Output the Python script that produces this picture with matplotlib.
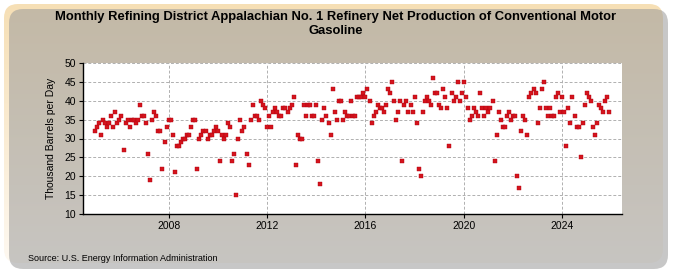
#!/usr/bin/env python3
"""Monthly Appalachian No. 1 refinery conventional gasoline output, EIA-style scatter."""
import numpy as np
import matplotlib
matplotlib.use("Agg")
import matplotlib.pyplot as plt
from matplotlib.patches import FancyBboxPatch

# ── Data (thousand barrels per day), monthly from Jan 2005 ────────────────────
START_YEAR = 2005
values_2005_2008 = [
    32, 33, 34, 31, 35, 34, 33, 34, 36, 33, 37, 34,
    35, 36, 27, 34, 35, 33, 35, 35, 34, 35, 39, 36,
    36, 34, 26, 19, 35, 37, 36, 32, 32, 22, 29, 33,
    35, 35, 31, 21, 28,
]
values_2008_2012 = [
    28, 29, 30, 30, 31, 31, 33, 35, 35, 22, 30, 31, 32, 32, 30, 31,
    31, 32, 33, 32, 24, 31, 30, 31, 34, 33, 24, 26, 15, 30, 35, 32,
    33, 26, 23, 35, 39, 36, 36, 35, 40, 39, 38, 33, 36, 33, 37, 38, 37,
]
values_2012_2016 = [
    36, 36, 38, 38, 37, 38, 39, 41, 23, 31, 30, 30, 39, 36, 39, 39,
    36, 36, 39, 24, 18, 35, 38, 36, 34, 31, 43, 37, 35, 40, 40, 35,
    37, 36, 36, 40, 36, 36, 41, 41, 41, 42, 41, 43, 40, 34, 36, 37, 39, 38,
]
values_2016_2020 = [
    38, 37, 39, 43, 42, 45, 40, 35, 37, 40, 24, 39, 40, 37, 39, 37,
    41, 34, 22, 20, 37, 40, 41, 40, 39, 46, 42, 42, 39, 38, 43, 41,
    38, 28, 42, 40, 41, 45, 40, 42, 45, 41, 38, 35, 36, 38, 37, 36,
]
values_2020_2025 = [
    42, 38, 36, 38, 37, 38, 40, 24, 31, 37, 35, 33, 33, 36, 37, 35,
    36, 36, 20, 17, 32, 36, 35, 31, 41, 42, 43, 42, 34, 38, 43, 45,
    38, 36, 38, 36, 36, 41, 42, 37, 41, 37, 28, 38, 34, 41, 36, 33,
    33, 25, 34, 39, 42, 41, 40, 33, 31, 34, 39, 38, 37, 40, 41, 37,
]

production = np.array(values_2005_2008 + values_2008_2012 + values_2012_2016
                      + values_2016_2020 + values_2020_2025, dtype=float)
years = START_YEAR + np.arange(len(production)) / 12.0

TITLE = ("Monthly Refining District Appalachian No. 1 Refinery Net Production of Conventional Motor\n"
         "Gasoline")
YLABEL = "Thousand Barrels per Day"
SOURCE = "Source: U.S. Energy Information Administration"
XTICKS = [2008, 2012, 2016, 2020, 2024]
YTICKS = list(range(10, 55, 5))

W, H = 675, 275
plt.rcParams["font.family"] = ["Liberation Sans", "DejaVu Sans"]

fig = plt.figure(figsize=(W / 100, H / 100), dpi=100)
fig.patch.set_facecolor("white")

# ── Background panel: shadow + rounded gradient box ───────────────────────────
bg = fig.add_axes([0, 0, 1, 1])
bg.set_xlim(0, W)
bg.set_ylim(H, 0)
bg.axis("off")

shadow = FancyBboxPatch((9, 9), 659, 260, boxstyle="round,pad=0,rounding_size=14",
                        facecolor="#9a9a9a", edgecolor="none", alpha=0.55)
bg.add_patch(shadow)
panel = FancyBboxPatch((4, 4), 659, 259, boxstyle="round,pad=0,rounding_size=14",
                       facecolor="none", edgecolor="none")
bg.add_patch(panel)
grad = np.linspace(0, 1, 256)[:, None]
top_c = np.array([0.965, 0.875, 0.71])
bot_c = np.array([0.995, 0.975, 0.945])
img = top_c + (bot_c - top_c) * grad[..., None] * np.ones((1, 2, 1))
im = bg.imshow(img, extent=(4, 663, 263, 4), aspect="auto", interpolation="bilinear")
im.set_clip_path(panel)

fig.text(0.497, 0.96, TITLE, ha="center", va="top", fontsize=9.4, fontweight="bold",
         linespacing=1.2)
fig.text(0.042, 0.06, SOURCE, ha="left", va="center", fontsize=6.5)

# ── Plot area ─────────────────────────────────────────────────────────────────
ax = fig.add_axes([83 / W, 1 - 214 / H, (622 - 83) / W, (214 - 63) / H])
ax.set_facecolor("white")
ax.scatter(years, production, marker="s", s=11, color="#d4141c",
           edgecolors="#b00010", linewidths=0.3, zorder=3)

ax.set_xlim(2004.52, 2026.43)
ax.set_ylim(10, 50)
ax.set_xticks(XTICKS)
ax.set_yticks(YTICKS)
ax.tick_params(axis="both", labelsize=7.5, length=3, width=0.8, pad=2)
ax.grid(True, color="#b0b0b0", linestyle=(0, (3, 2)), linewidth=0.7)
ax.set_axisbelow(True)
for side in ("top", "right"):
    ax.spines[side].set_visible(False)
for side in ("left", "bottom"):
    ax.spines[side].set_linewidth(1.0)
ax.set_ylabel(YLABEL, fontsize=7.5, labelpad=6)

fig.savefig("out.png", dpi=100, facecolor=fig.get_facecolor())
